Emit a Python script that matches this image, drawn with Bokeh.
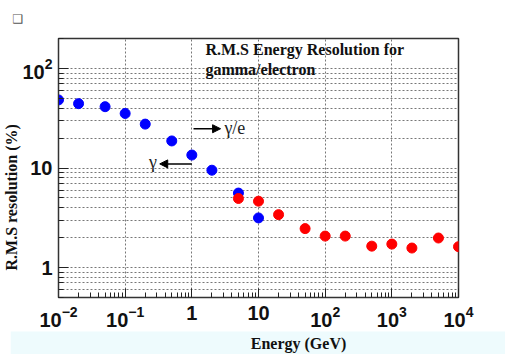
from bokeh.plotting import figure
from bokeh.models import (ColumnDataSource, FixedTicker, LogTickFormatter, Label,
                          Arrow, NormalHead, Range1d, Title)
from bokeh.embed import file_html
from bokeh.resources import INLINE

# ---- data ----
gamma_energy = [0.01, 0.02, 0.05, 0.1, 0.2, 0.5, 1, 2, 5, 10]
gamma_res = [48.3, 44.3, 41.3, 35.3, 27.6, 18.7, 13.5, 9.5, 5.6, 3.15]
electron_energy = [5, 10, 20, 50, 100, 200, 500, 1000, 2000, 5000, 10000]
electron_res = [4.94, 4.64, 3.4, 2.46, 2.07, 2.07, 1.64, 1.72, 1.57, 1.98, 1.62]
x_major = [0.01, 0.1, 1, 10, 100, 1000, 10000]
y_major = [1, 10, 100]
title_lines = ["R.M.S Energy Resolution for", "gamma/electron"]
x_title = "Energy (GeV)"
y_title = "R.M.S resolution (%)"

x_minor = [m * 10 ** e for e in range(-2, 4) for m in range(2, 10)]
y_minor = [m * 10 ** e for e in range(-1, 3) for m in range(2, 10)]

p = figure(width=505, height=354, x_axis_type="log", y_axis_type="log",
           x_range=Range1d(0.01, 10000), y_range=Range1d(0.5, 200),
           output_backend="svg", toolbar_location=None,
           min_border_left=58, min_border_right=47, min_border_top=37,
           min_border_bottom=57)
p.background_fill_color = "white"
p.border_fill_color = "white"
p.outline_line_color = "#333333"
p.outline_line_width = 1.5

p.xaxis.ticker = FixedTicker(ticks=x_major, minor_ticks=x_minor)
p.yaxis.ticker = FixedTicker(ticks=y_major, minor_ticks=y_minor)
for ax in (p.xaxis[0], p.yaxis[0]):
    ax.formatter = LogTickFormatter(min_exponent=0)
    ax.major_label_overrides = {1: "1", 10: "10"}
    ax.major_label_text_font = "Liberation Sans"
    ax.major_label_text_font_style = "bold"
    ax.major_label_text_font_size = "20px"
    ax.major_label_text_color = "#111111"
    ax.major_tick_out = 0
    ax.minor_tick_out = 0
    ax.major_tick_line_color = "#222222"
    ax.minor_tick_line_color = "#222222"
    ax.axis_line_color = "#333333"
    ax.axis_label = None
p.xaxis.major_tick_in = 9
p.xaxis.minor_tick_in = 5
p.yaxis.major_tick_in = 10
p.yaxis.minor_tick_in = 5
p.xaxis.major_label_standoff = 8
p.yaxis.major_label_standoff = 6

p.xgrid.grid_line_color = "#777777"
p.xgrid.grid_line_dash = "2 2"
p.ygrid.grid_line_color = "#777777"
p.ygrid.grid_line_dash = "2 2"
p.ygrid.minor_grid_line_color = "#777777"
p.ygrid.minor_grid_line_dash = "2 2"

serif = "Liberation Serif"

# axis titles as side-panel titles (light band behind the x title)
# padding order: (left, right, top, bottom)
p.add_layout(Title(text=x_title, align="center", standoff=0,
                   text_font=serif, text_font_style="bold", text_font_size="16px",
                   text_color="#111111", background_fill_color="#eefbfd",
                   padding=(240, 160, 3, 3)), "below")
p.add_layout(Title(text=y_title, align="left", standoff=0, offset=27,
                   text_font=serif, text_font_style="bold", text_font_size="16px",
                   text_color="#111111"), "left")
p.add_layout(Title(text="❑", align="left", offset=-46, standoff=22,
                   vertical_align="top", text_font="DejaVu Sans",
                   text_font_size="12px", text_font_style="normal",
                   text_color="#555555"), "above")

gsrc = ColumnDataSource(dict(x=gamma_energy, y=gamma_res))
esrc = ColumnDataSource(dict(x=electron_energy, y=electron_res))
p.scatter("x", "y", source=gsrc, size=10, color="#0000ff")
p.scatter("x", "y", source=esrc, size=10, color="#ff0000")

p.add_layout(Label(x=1.6, y=155, text=title_lines[0], text_font=serif,
                   text_font_style="bold", text_font_size="16px",
                   text_baseline="middle", text_color="#111111"))
p.add_layout(Label(x=1.6, y=98, text=title_lines[1], text_font=serif,
                   text_font_style="bold", text_font_size="16px",
                   text_baseline="middle", text_color="#111111"))

p.add_layout(Arrow(end=NormalHead(size=8, fill_color="black", line_color="black"),
                   x_start=1.06, y_start=24.8, x_end=2.7, y_end=24.8,
                   line_width=1.5, line_color="black"))
p.add_layout(Label(x=3.08, y=25.2, text="γ/e", text_font=serif,
                   text_font_size="18px", text_baseline="middle", text_color="#222222"))
p.add_layout(Arrow(end=NormalHead(size=8, fill_color="black", line_color="black"),
                   x_start=1.0, y_start=11.0, x_end=0.33, y_end=11.0,
                   line_width=1.5, line_color="black"))
p.add_layout(Label(x=0.3, y=11.5, text="γ", text_font=serif, text_align="right",
                   text_font_size="18px", text_baseline="middle", text_color="#222222"))

open("out.html", "w").write(file_html(p, INLINE))
